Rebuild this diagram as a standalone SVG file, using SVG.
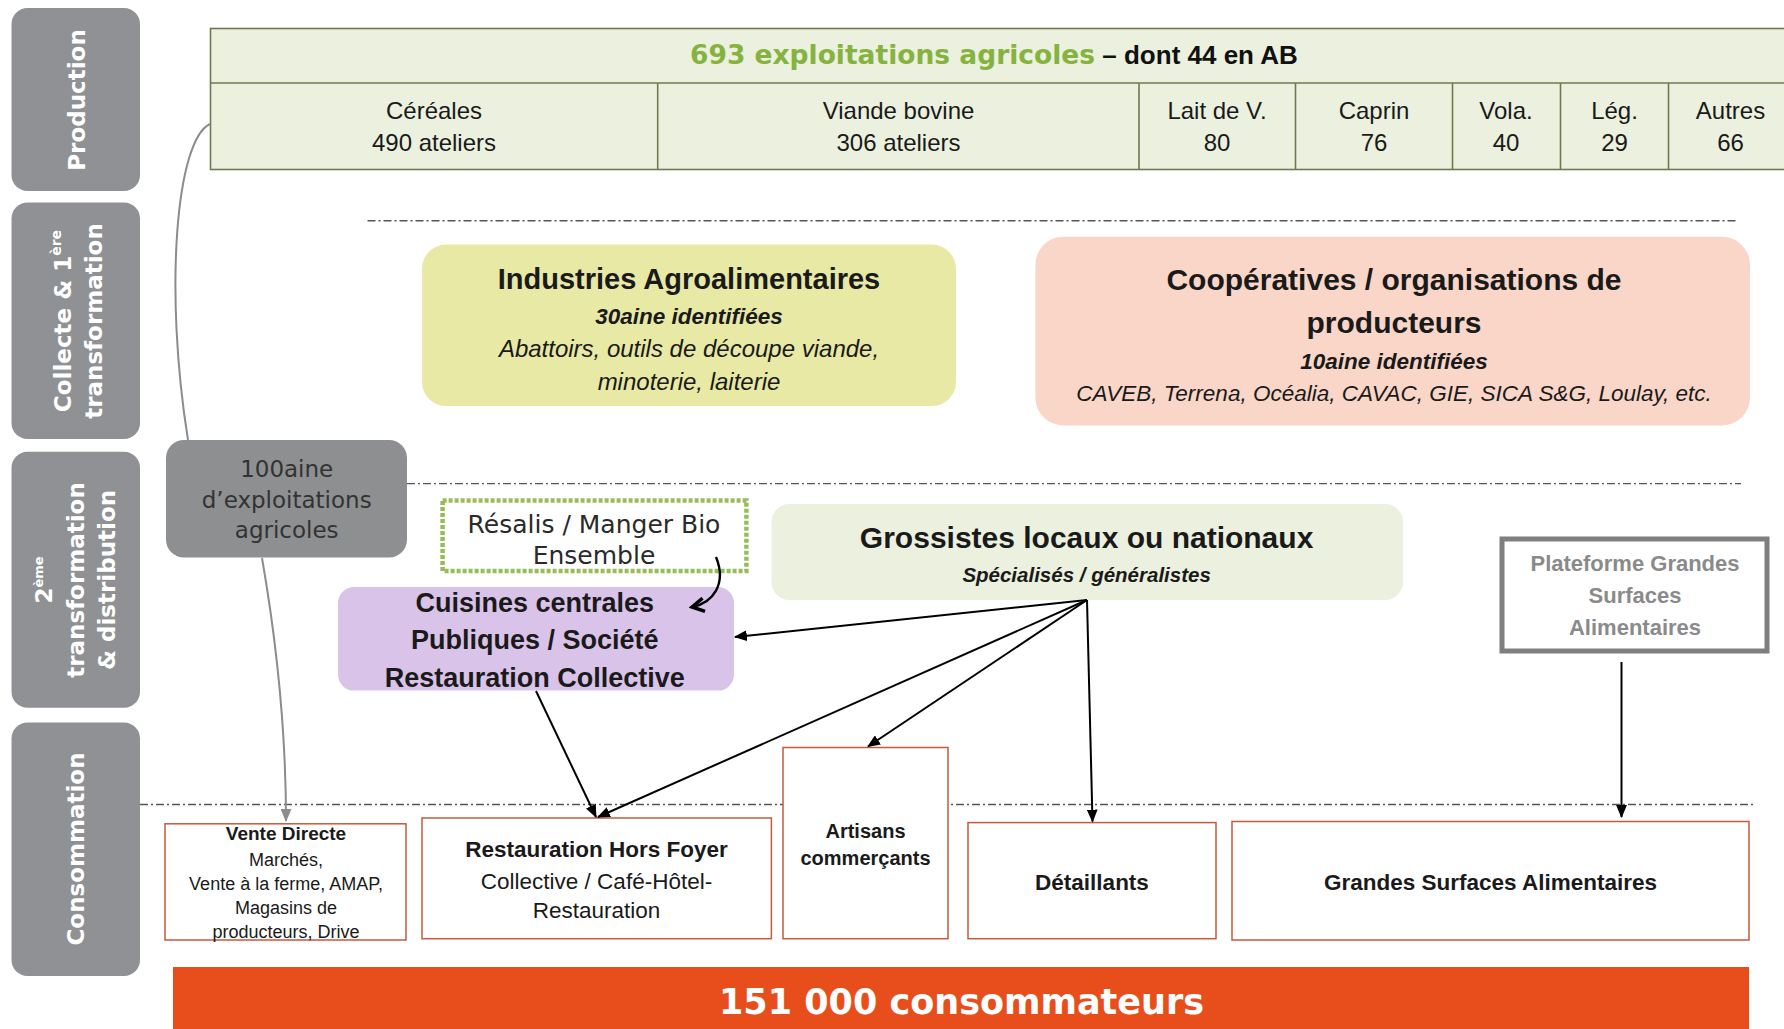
<svg xmlns="http://www.w3.org/2000/svg" width="1784" height="1029" viewBox="0 0 1784 1029">
<defs>
<style>
.sb{fill:#8f9194}
.sbt{font-family:"DejaVu Sans",sans-serif;font-weight:bold;font-size:23px;fill:#ffffff;text-anchor:middle}
.cal{font-family:"Liberation Sans",Arial,sans-serif;text-anchor:middle;fill:#1a1a1a}
.cg{font-family:"DejaVu Sans",sans-serif;text-anchor:middle}
.b{font-weight:bold}
.i{font-style:italic}
.dash{stroke:#555;stroke-width:1.4;stroke-dasharray:8 3 2 3;fill:none}
.bx{fill:#ffffff;stroke:#c55a3c;stroke-width:1.5}
.conn{stroke:#000;stroke-width:2;fill:none;marker-end:url(#ah)}
.row{font-size:24px}
</style>
<marker id="ah" viewBox="0 0 12 10" refX="11" refY="5" markerWidth="13" markerHeight="11" markerUnits="userSpaceOnUse" orient="auto"><path d="M0,0 L12,5 L0,10 Z" fill="#000"/></marker>
<marker id="ahg" viewBox="0 0 12 10" refX="11" refY="5" markerWidth="13" markerHeight="11" markerUnits="userSpaceOnUse" orient="auto"><path d="M0,0 L12,5 L0,10 Z" fill="#8c8c8c"/></marker>
<marker id="chev" viewBox="0 0 12 12" refX="10" refY="6" markerWidth="16" markerHeight="16" markerUnits="userSpaceOnUse" orient="auto"><path d="M1,1 L10,6 L1,11" fill="none" stroke="#000" stroke-width="2.6"/></marker>
</defs>
<rect x="0" y="0" width="1784" height="1029" fill="#ffffff"/>

<!-- Sidebars -->
<g id="sidebar-production">
<rect class="sb" x="11.5" y="8" width="128.5" height="183" rx="16"/>
<text class="sbt" transform="translate(76,100) rotate(-90)" x="0" y="8.5">Production</text>
</g>
<g id="sidebar-collecte">
<rect class="sb" x="11.5" y="202.5" width="128.5" height="236.5" rx="16"/>
<g transform="translate(78,321) rotate(-90)">
<text class="sbt" x="0" y="-7">Collecte &amp; 1<tspan font-size="14" dy="-10">ère</tspan></text>
<text class="sbt" x="0" y="23.5">transformation</text>
</g>
</g>
<g id="sidebar-2eme">
<rect class="sb" x="11.5" y="451.7" width="128.5" height="256" rx="16"/>
<g transform="translate(75,580) rotate(-90)">
<text class="sbt" x="0" y="-23.5" font-size="20">2<tspan font-size="13" dy="-9">ème</tspan></text>
<text class="sbt" x="0" y="8.5">transformation</text>
<text class="sbt" x="0" y="39.5">&amp; distribution</text>
</g>
</g>
<g id="sidebar-consommation">
<rect class="sb" x="11.5" y="722.5" width="128.5" height="253.5" rx="16"/>
<text class="sbt" transform="translate(75,849) rotate(-90)" x="0" y="8.5">Consommation</text>
</g>

<!-- Production table -->
<g id="production-table">
<rect x="210.5" y="28.5" width="1600" height="141" fill="#ebf1de" stroke="#6f7a4c" stroke-width="1.6"/>
<line x1="210.5" y1="83" x2="1784" y2="83" stroke="#6f7a4c" stroke-width="1.6"/>
<g stroke="#6f7a4c" stroke-width="1.6">
<line x1="657.7" y1="83" x2="657.7" y2="169.5"/>
<line x1="1139" y1="83" x2="1139" y2="169.5"/>
<line x1="1295.5" y1="83" x2="1295.5" y2="169.5"/>
<line x1="1452.5" y1="83" x2="1452.5" y2="169.5"/>
<line x1="1560.5" y1="83" x2="1560.5" y2="169.5"/>
<line x1="1668.5" y1="83" x2="1668.5" y2="169.5"/>
</g>
<text x="690" y="64" style="font-family:'DejaVu Sans',sans-serif"><tspan font-weight="bold" font-size="26.5" fill="#86b340">693 exploitations agricoles</tspan><tspan font-family="Liberation Sans, Arial, sans-serif" font-weight="bold" font-size="26" fill="#111"> – dont 44 en AB</tspan></text>
<text class="cal row" x="434" y="118.5">Céréales</text>
<text class="cal row" x="434" y="150.5">490 ateliers</text>
<text class="cal row" x="898.5" y="118.5">Viande bovine</text>
<text class="cal row" x="898.5" y="150.5">306 ateliers</text>
<text class="cal row" x="1217" y="118.5">Lait de V.</text>
<text class="cal row" x="1217" y="150.5">80</text>
<text class="cal row" x="1374" y="118.5">Caprin</text>
<text class="cal row" x="1374" y="150.5">76</text>
<text class="cal row" x="1506" y="118.5">Vola.</text>
<text class="cal row" x="1506" y="150.5">40</text>
<text class="cal row" x="1614.5" y="118.5">Lég.</text>
<text class="cal row" x="1614.5" y="150.5">29</text>
<text class="cal row" x="1730.5" y="118.5">Autres</text>
<text class="cal row" x="1730.5" y="150.5">66</text>
</g>

<!-- Separators -->
<g id="separators">
<line class="dash" x1="367.5" y1="220.7" x2="1737.5" y2="220.7"/>
<line class="dash" x1="407" y1="483.6" x2="1741" y2="483.6"/>
<line class="dash" x1="140" y1="804.5" x2="1755.5" y2="804.5"/>
</g>

<!-- Collecte nodes -->
<g id="industries">
<rect x="422" y="244.6" width="534" height="161.4" rx="24" fill="#e7e9a5"/>
<text class="cal b" x="689" y="289" font-size="29">Industries Agroalimentaires</text>
<text class="cal b i" x="689" y="323.5" font-size="22.5">30aine identifiées</text>
<text class="cal i" x="689" y="356.5" font-size="24">Abattoirs, outils de découpe viande,</text>
<text class="cal i" x="689" y="389.5" font-size="24">minoterie, laiterie</text>
</g>
<g id="cooperatives">
<rect x="1035.4" y="236.7" width="714.6" height="188.8" rx="28" fill="#f9d6c8"/>
<text class="cal b" x="1394" y="289.5" font-size="30">Coopératives / organisations de</text>
<text class="cal b" x="1394" y="332.5" font-size="30">producteurs</text>
<text class="cal b i" x="1394" y="369" font-size="22.5">10aine identifiées</text>
<text class="cal i" x="1394" y="400.5" font-size="22.5">CAVEB, Terrena, Océalia, CAVAC, GIE, SICA S&amp;G, Loulay, etc.</text>
</g>

<!-- 2eme transformation nodes -->
<g id="exploitations-100">
<rect x="166" y="440" width="241" height="117.5" rx="18" fill="#8e8f91"/>
<text class="cg" x="286.7" y="477" font-size="23" fill="#333">100aine</text>
<text class="cg" x="286.7" y="508" font-size="23" fill="#333">d’exploitations</text>
<text class="cg" x="286.7" y="537.5" font-size="23" fill="#333">agricoles</text>
</g>
<g id="resalis">
<rect x="442.6" y="500.6" width="303.8" height="70.4" fill="#ffffff" stroke="#9bbb59" stroke-width="4.5" stroke-dasharray="4 2"/>
<text class="cg" x="594" y="532.5" font-size="25" fill="#2a2a2a">Résalis / Manger Bio</text>
<text class="cg" x="594" y="564" font-size="25" fill="#2a2a2a">Ensemble</text>
</g>
<g id="cuisines">
<rect x="338" y="587" width="396" height="103.6" rx="16" fill="#d9c3e9"/>
<text class="cal b" x="534.8" y="611.5" font-size="27">Cuisines centrales</text>
<text class="cal b" x="534.8" y="649" font-size="27">Publiques / Société</text>
<text class="cal b" x="534.8" y="686.5" font-size="27">Restauration Collective</text>
</g>
<g id="grossistes">
<rect x="771.5" y="504" width="631.5" height="96" rx="18" fill="#ebf1de"/>
<text class="cal b" x="1086.6" y="547.5" font-size="30">Grossistes locaux ou nationaux</text>
<text class="cal b i" x="1086.6" y="582" font-size="20.5">Spécialisés / généralistes</text>
</g>
<g id="plateforme">
<rect x="1502" y="539" width="265" height="112" fill="#ffffff" stroke="#7f7f7f" stroke-width="5"/>
<text class="cal b" x="1635" y="570.5" font-size="22" fill="#8a8a8a" style="fill:#8a8a8a">Plateforme Grandes</text>
<text class="cal b" x="1635" y="602.5" font-size="22" style="fill:#8a8a8a">Surfaces</text>
<text class="cal b" x="1635" y="634.5" font-size="22" style="fill:#8a8a8a">Alimentaires</text>
</g>

<!-- Consommation nodes -->
<g id="vente-directe">
<rect class="bx" x="165" y="823.8" width="241" height="116.2"/>
<text class="cal b" x="286" y="839.5" font-size="19">Vente Directe</text>
<text class="cal" x="286" y="866" font-size="18">Marchés,</text>
<text class="cal" x="286" y="890" font-size="18">Vente à la ferme, AMAP,</text>
<text class="cal" x="286" y="914" font-size="18">Magasins de</text>
<text class="cal" x="286" y="938" font-size="18">producteurs, Drive</text>
</g>
<g id="restauration-hors-foyer">
<rect class="bx" x="422" y="818" width="349.4" height="120.7"/>
<text class="cal b" x="596.5" y="857" font-size="22.5">Restauration Hors Foyer</text>
<text class="cal" x="596.5" y="888.7" font-size="22.5">Collective / Café-Hôtel-</text>
<text class="cal" x="596.5" y="918" font-size="22.5">Restauration</text>
</g>
<g id="artisans">
<rect class="bx" x="783" y="747.5" width="165" height="191.2"/>
<text class="cal b" x="865.5" y="837.5" font-size="20">Artisans</text>
<text class="cal b" x="865.5" y="865" font-size="20">commerçants</text>
</g>
<g id="detaillants">
<rect class="bx" x="968" y="822.6" width="248" height="116.1"/>
<text class="cal b" x="1092" y="890" font-size="22.5">Détaillants</text>
</g>
<g id="gsa">
<rect class="bx" x="1232" y="821.5" width="517" height="118.5"/>
<text class="cal b" x="1490.5" y="890" font-size="22.5">Grandes Surfaces Alimentaires</text>
</g>
<g id="consommateurs">
<rect x="173" y="967" width="1576" height="62" fill="#e84e1b"/>
<text class="cg" x="961.5" y="1013.5" font-size="35" font-weight="bold" fill="#ffffff">151 000 consommateurs</text>
</g>

<!-- Connectors -->
<g id="connectors">
<path d="M210,124 C176,140 164,290 188,440" stroke="#8c8c8c" stroke-width="2" fill="none"/>
<path d="M262,558 C278,650 286,740 286,821" stroke="#8c8c8c" stroke-width="2" fill="none" marker-end="url(#ahg)"/>
<path d="M716,557 C727,584 713,603 692,607" stroke="#000" stroke-width="2.4" fill="none" marker-end="url(#chev)"/>
<path class="conn" d="M536,691 L596,817"/>
<path class="conn" d="M1087,600 L735,637"/>
<path class="conn" d="M1087,600 L598,817"/>
<path class="conn" d="M1087,600 L868,746.5"/>
<path class="conn" d="M1087,600 L1092.5,821.5"/>
<path class="conn" d="M1621.5,662 L1621.5,817"/>
</g>
</svg>
